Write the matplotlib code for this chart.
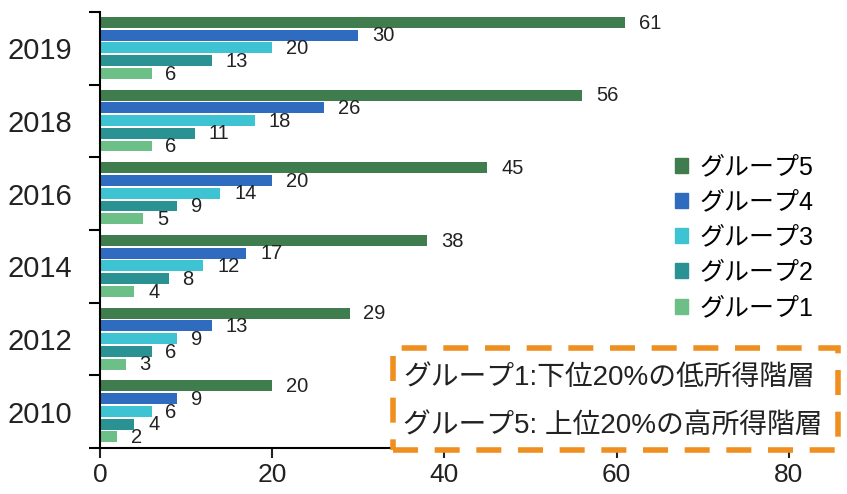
import matplotlib

matplotlib.use("Agg")
import matplotlib.pyplot as plt  # noqa: E402
import numpy as np  # noqa: E402
from matplotlib.patches import Patch, Rectangle  # noqa: E402

plt.rcParams["font.family"] = ["Liberation Sans", "Noto Sans CJK JP", "DejaVu Sans"]

# bottom to top
years = ["2010", "2012", "2014", "2016", "2018", "2019"]
group5 = [20, 29, 38, 45, 56, 61]
group4 = [9, 13, 17, 20, 26, 30]
group3 = [6, 9, 12, 14, 18, 20]
group2 = [4, 6, 8, 9, 11, 13]
group1 = [2, 3, 4, 5, 6, 6]

series = [
    ("グループ5", group5, "#3f7d4e"),
    ("グループ4", group4, "#2f6cc0"),
    ("グループ3", group3, "#3ec3d3"),
    ("グループ2", group2, "#2a9293"),
    ("グループ1", group1, "#6dbf88"),
]
note_lines = ["グループ1:下位20%の低所得階層", "グループ5: 上位20%の高所得階層"]

fig = plt.figure(figsize=(8.47, 4.94), dpi=100)
ax = fig.add_axes([0.118, 0.093, 0.864, 0.883])

first, pitch, height = 0.145, 0.175, 0.15
y0 = np.arange(len(years))
for k, (name, vals, color) in enumerate(series):
    ypos = y0 + 1 - first - k * pitch
    ax.barh(ypos, vals, height=height, color=color, label=name, zorder=2)
    for y, v in zip(ypos, vals):
        ax.text(v + 1.6, y - 0.01, str(v), va="center", ha="left", fontsize=14.5, color="#222222")

ax.set_xlim(0, 85)
ax.set_ylim(0, len(years))
ax.set_xticks([0, 20, 40, 60, 80])
ax.tick_params(axis="x", labelsize=19, length=7, width=1.5, pad=4, colors="#222222")
ax.set_yticks(np.arange(len(years) + 1))
ax.set_yticklabels([])
ax.set_yticks(y0 + 0.5, minor=True)
ax.set_yticklabels(years, minor=True, fontsize=21, color="#222222")
ax.tick_params(axis="y", which="major", length=8, width=1.5, direction="out")
ax.tick_params(axis="y", which="minor", length=0, pad=20)
for side in ("top", "right"):
    ax.spines[side].set_visible(False)
for side in ("left", "bottom"):
    ax.spines[side].set_linewidth(1.5)

handles = [Patch(color=c, label=n) for n, _, c in series]
fig.legend(handles=handles, loc="upper left", bbox_to_anchor=(0.77, 0.732), frameon=False,
           fontsize=18, handlelength=0.55, handleheight=0.55, handletextpad=0.45, labelspacing=0.45)

box = Rectangle((0.464, 0.09), 0.525, 0.205, transform=fig.transFigure, facecolor="white",
                edgecolor="#ef8f1f", linewidth=4, linestyle=(0, (4.5, 3)), zorder=5)
fig.patches.append(box)
fig.text(0.476, 0.235, note_lines[0], fontsize=20, va="center", ha="left", color="#222222", zorder=6)
fig.text(0.476, 0.137, note_lines[1], fontsize=20, va="center", ha="left", color="#222222", zorder=6)

fig.savefig("out.png", dpi=100)
